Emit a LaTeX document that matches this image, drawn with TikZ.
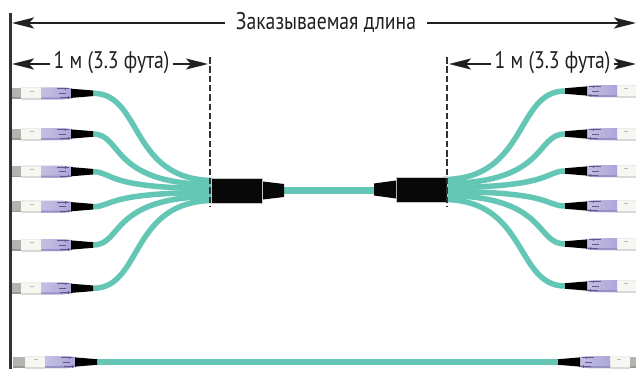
\documentclass[tikz,border=0pt]{standalone}
\usepackage{fontspec}
\setmainfont[FakeStretch=0.82]{PT Sans}
\usetikzlibrary{arrows.meta}

\definecolor{fiber}{RGB}{100,198,180}
\definecolor{ink}{RGB}{35,31,32}
\definecolor{rulegray}{RGB}{50,50,50}
\definecolor{lav}{RGB}{172,166,216}
\definecolor{lavdark}{RGB}{96,88,140}
\definecolor{cream}{RGB}{248,246,240}
\definecolor{ferrule}{RGB}{178,181,175}
\definecolor{hubblack}{RGB}{8,8,8}

\tikzset{
  fib/.style={draw=fiber, line width=5.5pt},
  trunk/.style={draw=fiber, line width=7pt},
  hub/.style={fill=hubblack, draw=gray!45, line width=0.5pt, minimum width=51pt, minimum height=25pt, inner sep=0pt},
  lbl/.style={text=ink, font=\fontsize{24}{27}\selectfont, inner ysep=0pt},
  dim/.style={draw=ink, line width=2.4pt, -{Stealth[length=22pt,width=11pt,inset=5pt]}},
  guide/.style={draw=rulegray, line width=2.6pt, dash pattern=on 6.5pt off 2.8pt},
  plug/.pic={
    % ferrule
    \fill[ferrule] (-84,-5.5) rectangle (-72,5.5);
    \fill[ferrule!85!black] (-84,4) rectangle (-72,5.5);
    % latch body
    \fill[cream] (-72,-6.5) rectangle (-52,6.5);
    \fill[gray!30] (-72,4.5) rectangle (-52,6.5);
    \fill[gray!15] (-72,-6.5) rectangle (-52,-5.2);
    \draw[gray!55, line width=0.6pt] (-63,-2.5) -- (-59,-2.5);
    % strain-relief boot
    \shade[left color=lav!70!white, right color=lav] (-52,-6) -- (-30,-6) -- (-21,-5) -- (-21,5) -- (-30,6) -- (-52,6) -- cycle;
    \fill[lav!75!lavdark] (-52,4) -- (-30,4) -- (-21,3.3) -- (-21,5) -- (-30,6) -- (-52,6) -- cycle;
    \draw[lavdark, line width=0.7pt] (-36,-4.5) -- (-24,-4.5) (-34,0) -- (-27,0) (-33,4.5) -- (-23,4.5);
    \draw[lavdark, line width=0.7pt] (-28,-5.5) -- (-28,-3) (-25,3) -- (-25,5.5);
    % black boot tip
    \fill[black] (-22,-4.6) -- (0,-2.8) -- (0,2.8) -- (-22,4.6) -- cycle;
  }
}

\begin{document}
\begin{tikzpicture}[x=1pt, y=-1pt]
\useasboundingbox (0,0) rectangle (636,369);
\clip (0,0) rectangle (636,369);
\fill[white] (0,0) rectangle (636,369);

% ---- fibre ends at the plugs
\coordinate (lp1) at (93,93.3);
\coordinate (lp2) at (93,134);
\coordinate (lp3) at (93,171.7);
\coordinate (lp4) at (93,206.7);
\coordinate (lp5) at (93,245);
\coordinate (lp6) at (93,288.3);
\coordinate (rp1) at (565,91);
\coordinate (rp2) at (565,134);
\coordinate (rp3) at (565,171);
\coordinate (rp4) at (565,206);
\coordinate (rp5) at (565,244);
\coordinate (rp6) at (565,286);
\coordinate (bl) at (97,362);
\coordinate (br) at (558,362);

% ---- fibre entry points at the breakout hubs
\foreach \i in {1,...,6} {
  \coordinate (la\i) at (214,{180.5+4*(\i-1)});
  \coordinate (ra\i) at (443,{179.5+4*(\i-1)});
}

% ---- fan-out fibres
\foreach \i/\a/\b in {1/50/85,2/30/105,3/20/110,4/20/110,5/30/105,6/50/85} {
  \draw[fib] (lp\i) .. controls +(\a,0) and +(-\b,0) .. (la\i);
  \draw[fib] (ra\i) .. controls +(\b,0) and +(-\a,0) .. (rp\i);
}
\draw[fib] (bl) -- (br);

% ---- trunk cable between the hubs
\coordinate (lt) at (283,190.5);
\coordinate (rt) at (375,190.5);
\draw[trunk] (lt) -- (rt);

% ---- breakout hubs
\node[hub] (lbox) at (237,190.5) {};
\fill[hubblack] (263,181.5) -- (284,184) -- (284,197) -- (263,199.5) -- cycle;
\node[hub] (rbox) at (421.5,189.5) {};
\fill[hubblack] (396,180.5) -- (374,183.5) -- (374,195.5) -- (396,198.5) -- cycle;

% ---- plugs
\foreach \i in {1,...,6} {
  \pic at (lp\i) {plug};
  \pic[xscale=-1] at (rp\i) {plug};
}
\pic at (bl) {plug};
\pic[xscale=-1] at (br) {plug};

% ---- reference edge
\coordinate (edgeTop) at (10.5,13);
\coordinate (edgeBot) at (10.5,369);
\draw[rulegray, line width=2.5pt] (edgeTop) -- (edgeBot);

% ---- hub limits
\coordinate (gl1) at (210,57);
\coordinate (gl2) at (210,206);
\coordinate (gr1) at (447,57);
\coordinate (gr2) at (447,206);
\draw[guide] (gl1) -- (gl2);
\draw[guide] (gr1) -- (gr2);

% ---- dimensions
\node[lbl, inner xsep=11pt] (total) at (326,22) {Заказываемая длина};
\coordinate (tl) at (12,23);
\coordinate (tr) at (636,23);
\draw[dim] (total.west |- tl) -- (tl);
\draw[dim] (total.east |- tr) -- (tr);

\node[lbl, inner xsep=3.5pt] (lenL) at (111.5,63) {1 м (3.3 фута)};
\coordinate (ll) at (12,64);
\coordinate (lr) at (208,64);
\draw[dim] (lenL.west |- ll) -- (ll);
\draw[dim] (lenL.east |- lr) -- (lr);

\node[lbl, inner xsep=3.5pt] (lenR) at (552.5,63) {1 м (3.3 фута)};
\coordinate (rl) at (449,64);
\coordinate (rr) at (636,64);
\draw[dim] (lenR.west |- rl) -- (rl);
\draw[dim] (lenR.east |- rr) -- (rr);
\end{tikzpicture}
\end{document}
